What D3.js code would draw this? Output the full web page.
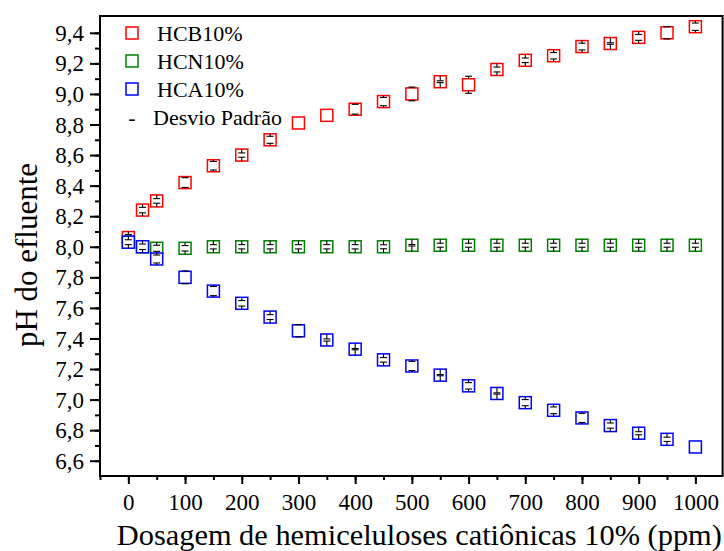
<!DOCTYPE html>
<html>
<head>
<meta charset="utf-8">
<script src="https://cdn.jsdelivr.net/npm/d3@7"></script>
<style>
  html, body { margin: 0; padding: 0; background: #fff; }
  svg { display: block; }
  svg text { font-family: "Liberation Serif", "Times New Roman", serif; }
</style>
</head>
<body>
<svg id="chart" width="724" height="551"></svg>
<script>
// Dosagem (ppm)
const doses = [0, 25, 50, 100, 150, 200, 250, 300, 350, 400, 450, 500, 550, 600, 650, 700, 750, 800, 850, 900, 950, 1000];

// pH médio por série
const hcb = [8.06, 8.24, 8.30, 8.42, 8.53, 8.60, 8.70, 8.81, 8.86, 8.90, 8.95, 9.00, 9.08, 9.06, 9.16, 9.22, 9.25, 9.31, 9.33, 9.37, 9.40, 9.44];
const hcn = [8.03, 8.00, 7.99, 7.99, 8.00, 8.00, 8.00, 8.00, 8.00, 8.00, 8.00, 8.01, 8.01, 8.01, 8.01, 8.01, 8.01, 8.01, 8.01, 8.01, 8.01, 8.01];
const hca = [8.03, 8.00, 7.92, 7.80, 7.71, 7.63, 7.54, 7.45, 7.39, 7.33, 7.26, 7.22, 7.16, 7.09, 7.04, 6.98, 6.93, 6.88, 6.83, 6.78, 6.74, 6.69];

// Desvio padrão (null = sem barra)
const hcbSd = [0.020, 0.018, 0.015, 0.032, 0.028, 0.014, 0.023, null, null, 0.032, 0.027, 0.045, 0.006, 0.056, 0.016, 0.015, 0.021, 0.022, 0.005, 0.019, 0.040, 0.024];
const hcnSd = [0.020, 0.015, 0.020, 0.018, 0.014, 0.014, 0.014, 0.014, 0.014, 0.014, 0.013, 0.005, 0.013, 0.013, 0.013, 0.013, 0.013, 0.013, 0.013, 0.013, 0.013, 0.013];
const hcaSd = [0.016, 0.018, 0.026, 0.042, 0.030, 0.018, 0.016, 0.040, 0.007, 0.004, 0.015, 0.030, 0.004, 0.021, 0.004, 0.020, 0.022, 0.030, 0.017, 0.010, 0.014, null];

const seriesNames = ["HCB10%", "HCN10%", "HCA10%"];
const sdLabel = "Desvio Padrão";
const xTicks = [0, 100, 200, 300, 400, 500, 600, 700, 800, 900, 1000];
const yTicks = [6.6, 6.8, 7.0, 7.2, 7.4, 7.6, 7.8, 8.0, 8.2, 8.4, 8.6, 8.8, 9.0, 9.2, 9.4];
const xTitle = "Dosagem de hemiceluloses catiônicas 10% (ppm)";
const yTitle = "pH do efluente";

const colors = ["#ff0000", "#008000", "#0000ff"];
const series = [
  { name: seriesNames[0], values: hcb, sd: hcbSd, color: colors[0] },
  { name: seriesNames[1], values: hcn, sd: hcnSd, color: colors[1] },
  { name: seriesNames[2], values: hca, sd: hcaSd, color: colors[2] }
];

const svg = d3.select("#chart");
const plotLeft = 100, plotRight = 722.6, plotTop = 16, plotBottom = 476;

const x = d3.scaleLinear().domain([-50, 1048]).range([plotLeft, plotRight]);
const y = d3.scaleLinear().domain([6.5, 9.51]).range([plotBottom, plotTop]);

const ptBR = d3.formatLocale({ decimal: ",", thousands: ".", grouping: [3], currency: ["", ""] });
const fmtY = ptBR.format(".1f");

// Moldura (topo e direita)
svg.append("path")
  .attr("d", `M${plotLeft},${plotTop}H${plotRight}V${plotBottom}`)
  .attr("fill", "none").attr("stroke", "#000").attr("stroke-width", 2);

// Eixo X
const xAxisG = svg.append("g").attr("transform", `translate(0,${plotBottom})`);
xAxisG.call(d3.axisBottom(x).tickValues(d3.range(-50, 1050, 50)).tickSize(4).tickFormat(""));
xAxisG.append("g").call(d3.axisBottom(x).tickValues(xTicks).tickSize(8).tickFormat(d3.format("d")));
xAxisG.selectAll(".domain").remove();
xAxisG.append("line").attr("x1", plotLeft - 1).attr("x2", plotRight + 1).attr("stroke", "#000").attr("stroke-width", 2);
xAxisG.selectAll("line").attr("stroke-width", 2);
xAxisG.selectAll("g").attr("font-family", null).attr("font-size", null);
xAxisG.attr("font-family", null).attr("font-size", null);
xAxisG.selectAll("text")
  .style("font-size", "23px").style("font-family", "'Liberation Serif', serif").attr("fill", "#000")
  .attr("dy", null).attr("y", 34);

// Eixo Y
const yAxisG = svg.append("g").attr("transform", `translate(${plotLeft},0)`);
yAxisG.call(d3.axisLeft(y).tickValues(d3.range(66, 95).map(d => d / 10)).tickSize(5).tickFormat(""));
yAxisG.append("g").call(d3.axisLeft(y).tickValues(yTicks).tickSize(10).tickFormat(fmtY));
yAxisG.selectAll(".domain").remove();
yAxisG.append("line").attr("y1", plotTop - 1).attr("y2", plotBottom + 1).attr("stroke", "#000").attr("stroke-width", 2);
yAxisG.selectAll("line").attr("stroke-width", 2);
yAxisG.selectAll("g").attr("font-family", null).attr("font-size", null);
yAxisG.attr("font-family", null).attr("font-size", null);
yAxisG.selectAll("text")
  .style("font-size", "23px").style("font-family", "'Liberation Serif', serif").attr("fill", "#000")
  .attr("x", -16).attr("dy", "0.33em");

// Títulos
svg.append("text")
  .attr("x", (plotLeft + plotRight) / 2 + 8).attr("y", 545)
  .attr("text-anchor", "middle").attr("font-size", 30.4).attr("fill", "#000")
  .text(xTitle);
svg.append("text")
  .attr("transform", "translate(37,255) rotate(-90)")
  .attr("text-anchor", "middle").attr("font-size", 31).attr("fill", "#000")
  .text(yTitle);

// Pontos e barras de erro
const half = 6;
series.forEach(s => {
  const pts = doses.map((d, i) => ({ dose: d, v: s.values[i], sd: s.sd[i] }));
  const g = svg.append("g");
  g.selectAll("rect").data(pts).join("rect")
    .attr("x", d => x(d.dose) - half).attr("y", d => y(d.v) - half)
    .attr("width", half * 2).attr("height", half * 2)
    .attr("fill", "#fff").attr("stroke", s.color).attr("stroke-width", 1.5);

  const eb = g.selectAll("g.eb").data(pts.filter(d => d.sd != null)).join("g").attr("class", "eb")
    .attr("stroke", "#000").attr("stroke-width", 1.1);
  // hastes do limite até a borda do marcador
  eb.append("line")
    .attr("x1", d => x(d.dose)).attr("x2", d => x(d.dose))
    .attr("y1", d => y(d.v + d.sd)).attr("y2", d => y(d.v) - half);
  eb.append("line")
    .attr("x1", d => x(d.dose)).attr("x2", d => x(d.dose))
    .attr("y1", d => y(d.v - d.sd)).attr("y2", d => y(d.v) + half);
  // traços horizontais nos limites
  eb.append("line")
    .attr("x1", d => x(d.dose) - 3.5).attr("x2", d => x(d.dose) + 3.5)
    .attr("y1", d => y(d.v + d.sd)).attr("y2", d => y(d.v + d.sd));
  eb.append("line")
    .attr("x1", d => x(d.dose) - 3.5).attr("x2", d => x(d.dose) + 3.5)
    .attr("y1", d => y(d.v - d.sd)).attr("y2", d => y(d.v - d.sd));
});

// Legenda
const leg = svg.append("g").attr("font-size", 22).attr("fill", "#000");
series.forEach((s, i) => {
  const cy = 33 + i * 28;
  leg.append("rect").attr("x", 126).attr("y", cy - 6).attr("width", 12).attr("height", 12)
    .attr("fill", "#fff").attr("stroke", s.color).attr("stroke-width", 1.5);
  leg.append("text").attr("x", 157).attr("y", cy + 7.5).text(s.name);
});
leg.append("text").attr("x", 132).attr("y", 33 + 3 * 28 + 7.5).attr("text-anchor", "middle").text("-");
leg.append("text").attr("x", 153).attr("y", 33 + 3 * 28 + 7.5).text(sdLabel);
</script>
</body>
</html>
